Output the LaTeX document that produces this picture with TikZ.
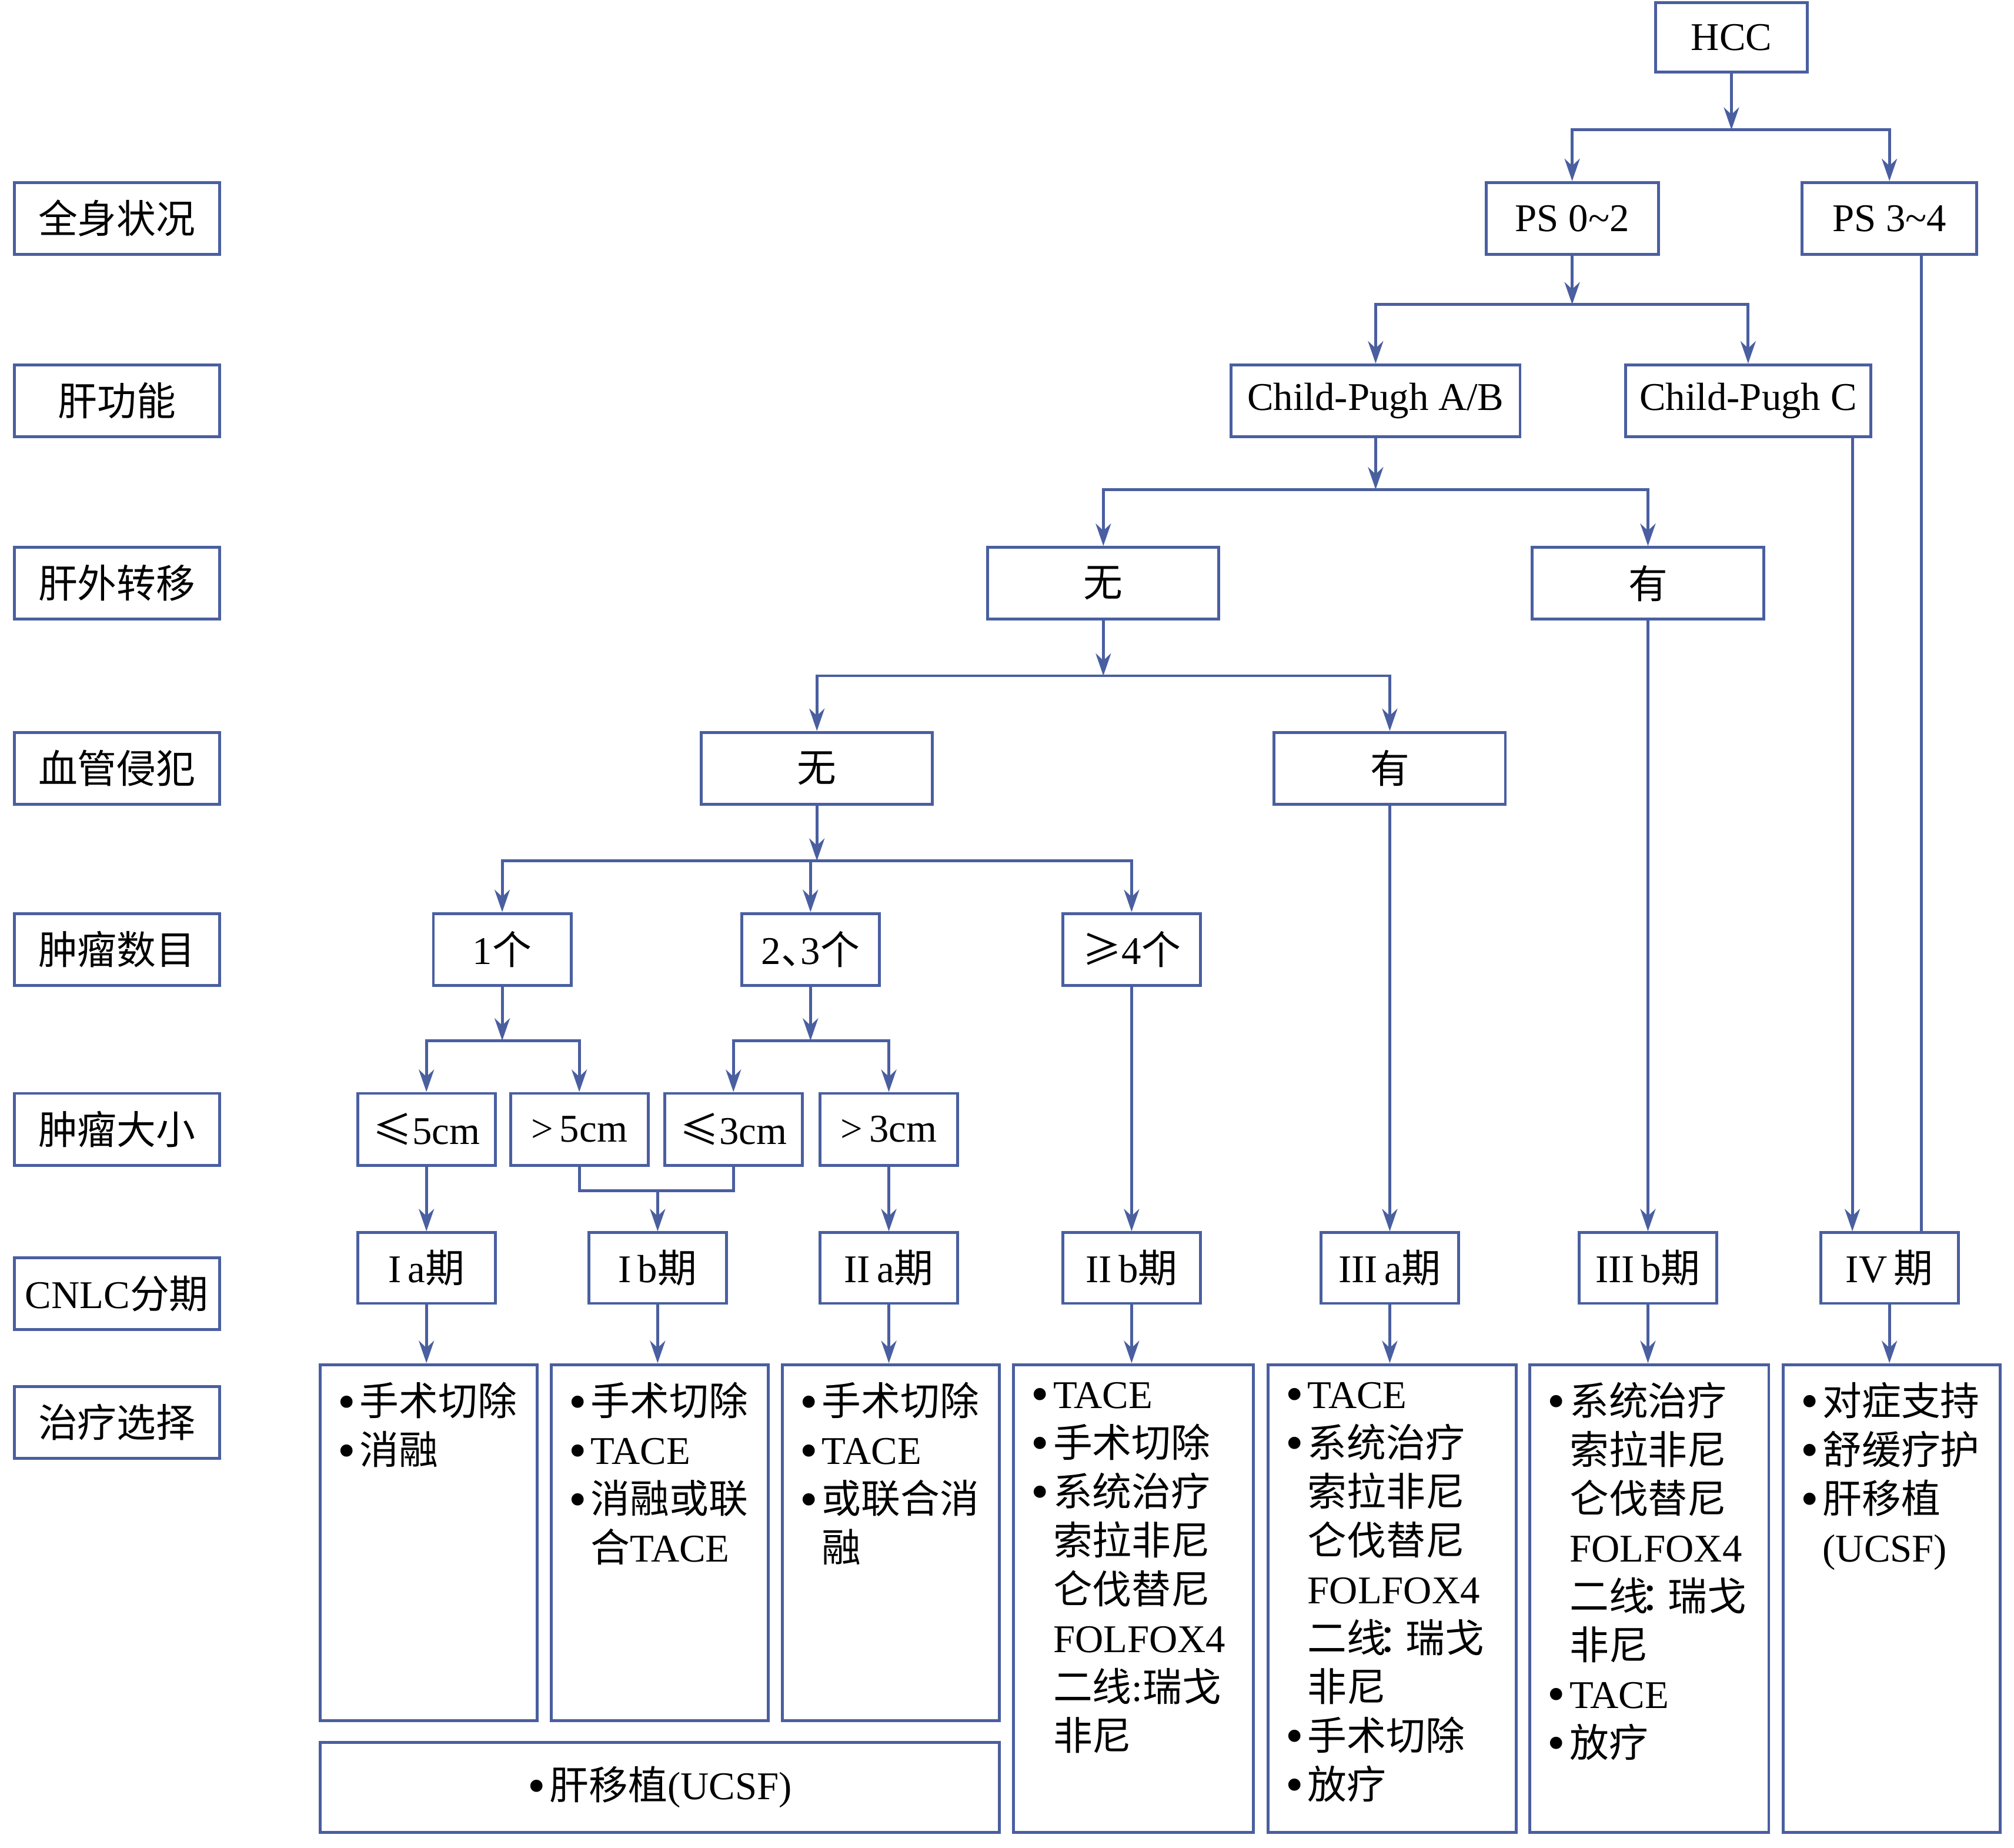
\documentclass[tikz,border=0pt]{standalone}
\usepackage{fontspec}
\setmainfont{Noto Sans CJK SC}
\newfontfamily\latin{Liberation Serif}
\usepackage{tikz}
\usetikzlibrary{positioning}
\usetikzlibrary{arrows.meta}
\usepackage{xcolor}
\definecolor{flowblue}{RGB}{74,95,160}
\newcommand{\bl}{\raisebox{-0.15ex}{\scalebox{1.3}{\latin\textbullet}}\hspace{2pt}}
\newcommand{\ind}{\phantom{\bl}}

\tikzset{
  box/.style={draw=flowblue, line width=1.4pt, inner sep=0pt, minimum height=1.22cm, font=\fontsize{19}{23.6}\selectfont},
  sidebox/.style={box, minimum width=3.49cm},
  smallbox/.style={box, minimum width=2.34cm},
  widebox/.style={box, minimum width=3.93cm},
  treat/.style={box, anchor=north west, inner sep=0.3cm},
  arr/.style={flowblue, line width=1.4pt, -{Stealth[length=0.38cm, width=0.26cm, inset=0.12cm]}},
  link/.style={flowblue, line width=1.4pt},
}

\begin{document}
\begin{tikzpicture}[x=0.02184cm, y=-0.02184cm]

\useasboundingbox (0,0) rectangle (1568,1438);

% row labels
{
\node[sidebox] (lab1) at (91,170) {全身状况};
\node[sidebox] (lab2) at (91,312) {肝功能};
\node[sidebox] (lab3) at (91,454) {肝外转移};
\node[sidebox] (lab4) at (91,598) {血管侵犯};
\node[sidebox] (lab5) at (91,739) {肿瘤数目};
\node[sidebox] (lab6) at (91,879) {肿瘤大小};
\node[sidebox] (lab7) at (91,1007) {{\latin CNLC}分期};
\node[sidebox] (lab8) at (91,1107) {治疗选择};
}

% tree nodes
{
\node[box, minimum width=2.58cm, minimum height=1.18cm] (hcc) at (1348,29) {\latin HCC};

\node[box, minimum width=2.93cm] (ps02) at (1224,170) {\latin PS 0\textasciitilde 2};
\node[box, minimum width=2.97cm] (ps34) at (1471,170) {\latin PS 3\textasciitilde 4};

\node[box, minimum width=4.91cm] (cpab) at (1071,312) {\latin Child-Pugh A/B};
\node[box, minimum width=4.17cm] (cpc) at (1361,312) {\latin Child-Pugh C};

\node[widebox] (emno) at (859,454) {无};
\node[widebox] (emyes) at (1283,454) {有};

\node[widebox] (vino) at (636,598) {无};
\node[widebox] (viyes) at (1082,598) {有};

\node[smallbox] (num1) at (391,739) {{\latin 1}个};
\node[smallbox] (num23) at (631,739) {{\latin 2}、\hspace{-0.5em}{\latin 3}个};
\node[smallbox] (num4) at (881,739) {≥{\latin 4}个};

\node[smallbox] (size1) at (332,879) {≤{\latin 5cm}};
\node[smallbox] (size2) at (451,879) {{\latin >\,5cm}};
\node[smallbox] (size3) at (571,879) {≤{\latin 3cm}};
\node[smallbox] (size4) at (692,879) {{\latin >\,3cm}};

\node[smallbox, minimum height=1.2cm] (st1) at (332,987) {{\latin I\,a}期};
\node[smallbox, minimum height=1.2cm] (st2) at (512,987) {{\latin I\,b}期};
\node[smallbox, minimum height=1.2cm] (st3) at (692,987) {{\latin II\,a}期};
\node[smallbox, minimum height=1.2cm] (st4) at (881,987) {{\latin II\,b}期};
\node[smallbox, minimum height=1.2cm] (st5) at (1082,987) {{\latin III\,a}期};
\node[smallbox, minimum height=1.2cm] (st6) at (1283,987) {{\latin III\,b}期};
\node[smallbox, minimum height=1.2cm] (st7) at (1471,987) {{\latin IV\,}期};
}

% treatment boxes
{
\node[treat] (tr1) at (248,1061) {\parbox[t][5.45cm][t]{3.09cm}{%
\bl 手术切除\\
\bl 消融}};
\node[treat] (tr2) at (428,1061) {\parbox[t][5.45cm][t]{3.09cm}{%
\bl 手术切除\\
\bl{\latin TACE}\\
\bl 消融或联\\
\ind 合{\latin TACE}}};
\node[treat] (tr3) at (608,1061) {\parbox[t][5.45cm][t]{3.09cm}{%
\bl 手术切除\\
\bl{\latin TACE}\\
\bl 或联合消\\
\ind 融}};
\node[box, anchor=north west, minimum width=11.55cm, minimum height=1.53cm] (trlt) at (248,1355) {\bl 肝移植{\latin(UCSF)}};

\node[treat] (tr4) at (788,1061) {\parbox[t][7.35cm][t]{3.48cm}{%
\bl{\latin TACE}\\
\bl 手术切除\\
\bl 系统治疗\\
\ind 索拉非尼\\
\ind 仑伐替尼\\
\ind{\latin FOLFOX4}\\
\ind 二线{\latin :}瑞戈\\
\ind 非尼}};
\node[treat] (tr5) at (986,1061) {\parbox[t][7.35cm][t]{3.62cm}{%
\bl{\latin TACE}\\
\bl 系统治疗\\
\ind 索拉非尼\\
\ind 仑伐替尼\\
\ind{\latin FOLFOX4}\\
\ind 二线\hspace{-0.2em}：\hspace{-0.3em}瑞戈\\
\ind 非尼\\
\bl 手术切除\\
\bl 放疗}};
\node[treat] (tr6) at (1190,1061) {\parbox[t][7.35cm][t]{3.46cm}{%
\bl 系统治疗\\
\ind 索拉非尼\\
\ind 仑伐替尼\\
\ind{\latin FOLFOX4}\\
\ind 二线\hspace{-0.2em}：\hspace{-0.3em}瑞戈\\
\ind 非尼\\
\bl{\latin TACE}\\
\bl 放疗}};
\node[treat] (tr7) at (1387,1061) {\parbox[t][7.35cm][t]{3.09cm}{%
\bl 对症支持\\
\bl 舒缓疗护\\
\bl 肝移植\\
\ind{\latin(UCSF)}}};
}

% junctions
\coordinate (j1) at (1348,101);
\coordinate (j2) at (1224,237);
\coordinate (j3) at (1071,381);
\coordinate (j4) at (859,526);
\coordinate (j5) at (636,670);
\coordinate (j6) at (391,810);
\coordinate (j7) at (631,810);
\coordinate (j8) at (512,927);

% connectors
{
\draw[arr] (hcc.south) -- (j1);
\draw[arr] (j1) -| (ps02.north);
\draw[arr] (j1) -| (ps34.north);

\draw[arr] (ps02.south) -- (j2);
\draw[arr] (j2) -| (cpab.north);
\draw[arr] (j2) -| (cpc.north);

\draw[arr] (cpab.south) -- (j3);
\draw[arr] (j3) -| (emno.north);
\draw[arr] (j3) -| (emyes.north);

\draw[arr] (emno.south) -- (j4);
\draw[arr] (j4) -| (vino.north);
\draw[arr] (j4) -| (viyes.north);

\draw[arr] (vino.south) -- (j5);
\draw[arr] (j5) -| (num1.north);
\draw[arr] (j5) -| (num23.north);
\draw[arr] (j5) -| (num4.north);

\draw[arr] (num1.south) -- (j6);
\draw[arr] (j6) -| (size1.north);
\draw[arr] (j6) -| (size2.north);

\draw[arr] (num23.south) -- (j7);
\draw[arr] (j7) -| (size3.north);
\draw[arr] (j7) -| (size4.north);

\draw[link] (size2.south) |- (j8);
\draw[link] (size3.south) |- (j8);
\draw[arr] (j8) -- (st2.north);

\draw[arr] (size1.south) -- (st1.north);
\draw[arr] (size4.south) -- (st3.north);
\draw[arr] (num4.south) -- (st4.north);
\draw[arr] (viyes.south) -- (st5.north);
\draw[arr] (emyes.south) -- (st6.north);
\draw[arr] ([xshift=-0.63cm]st7.north |- cpc.south) -- ([xshift=-0.63cm]st7.north);
\draw[link] ([xshift=0.54cm]st7.north |- ps34.south) -- ([xshift=0.54cm]st7.north);

\draw[arr] (st1.south) -- (st1.south |- tr1.north);
\draw[arr] (st2.south) -- (st2.south |- tr2.north);
\draw[arr] (st3.south) -- (st3.south |- tr3.north);
\draw[arr] (st4.south) -- (st4.south |- tr4.north);
\draw[arr] (st5.south) -- (st5.south |- tr5.north);
\draw[arr] (st6.south) -- (st6.south |- tr6.north);
\draw[arr] (st7.south) -- (st7.south |- tr7.north);
}

\end{tikzpicture}
\end{document}
